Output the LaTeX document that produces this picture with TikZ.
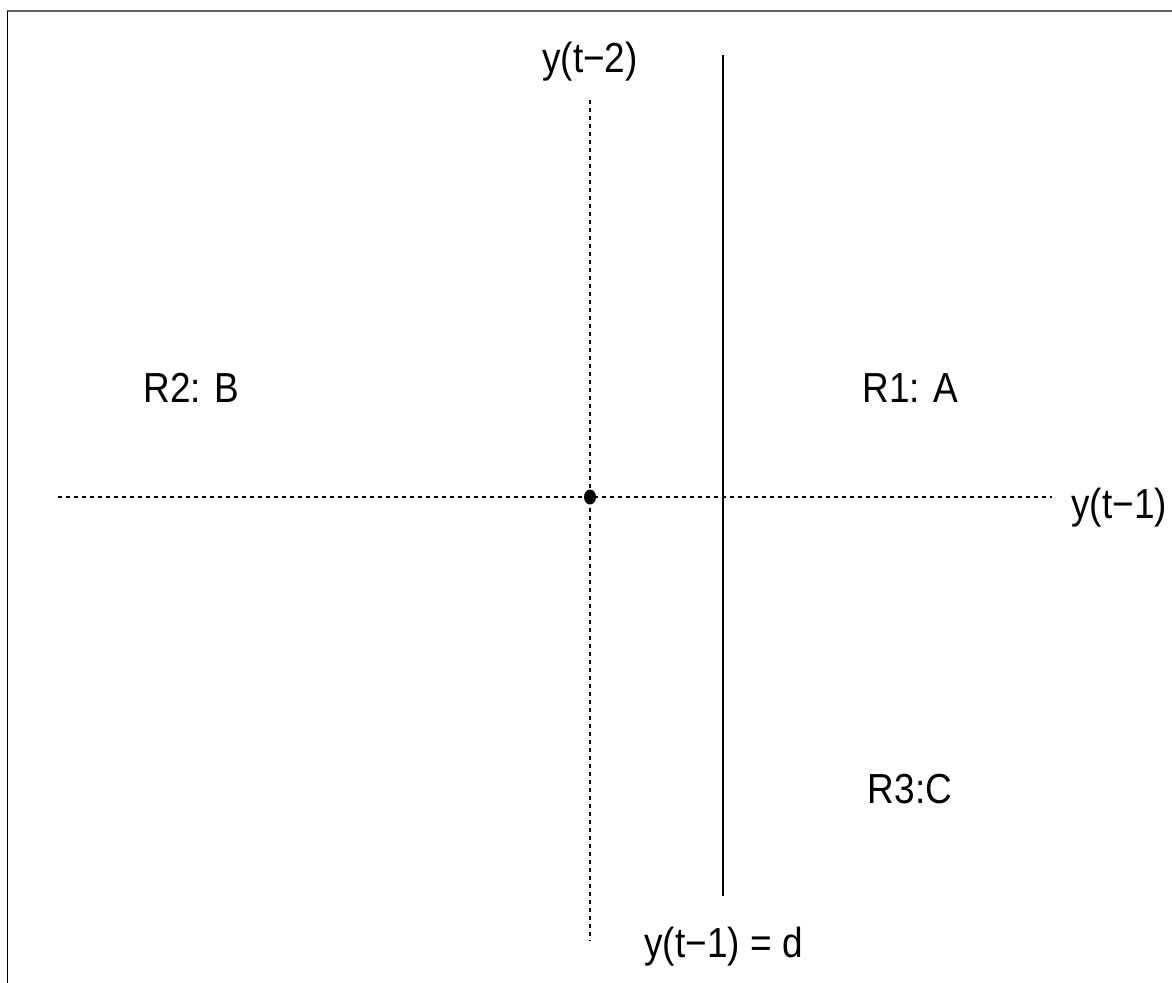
\documentclass[tikz,border=0pt]{standalone}
\usepackage{fontspec}
\setmainfont{Liberation Sans}
\newfontfamily\plotfont[FakeStretch=0.88]{Liberation Sans}
\usetikzlibrary{positioning}

\begin{document}
\begin{tikzpicture}[x=0.5pt,y=-0.5pt,
 lbl/.style={font=\plotfont\fontsize{21}{24}\selectfont,inner sep=0pt,anchor=base},
 thr/.style={line width=0.7pt},
 ax/.style={line width=0.55pt,dash pattern=on 2pt off 2pt}]
\useasboundingbox (0,0) rectangle (1172,983);
% frame
\draw[line width=1pt,black!60] (7,11) -- (1172,11);
\draw[line width=0.9pt] (7.5,11) -- (7.5,983);
% axes
\coordinate (xl) at (58,497); \coordinate (xr) at (1052,497);
\coordinate (yt) at (590,100); \coordinate (yb) at (590,941);
\coordinate (o) at (590,497);
\draw[ax] (xl) -- (xr);
\draw[ax] (yt) -- (yb);
\fill (o) ellipse [x radius=6,y radius=7.5];
% threshold
\coordinate (dt) at (723,55); \coordinate (db) at (723,896);
\draw[thr] (dt) -- (db);
% labels
\node[lbl] (ylag2) at (590,73) {y(t−2)};
\node[lbl,anchor=base west] (ylag1) at (1071,519) {y(t−1)};
\node[lbl] (thlbl) at (723.5,957) {y(t−1) = d};
\node[lbl] (reg2) at (191.5,403) {R2: B};
\node[lbl] (reg1) at (910.5,403) {R1: A};
\node[lbl] (reg3) at (910,803) {R3:C};
\end{tikzpicture}
\end{document}
